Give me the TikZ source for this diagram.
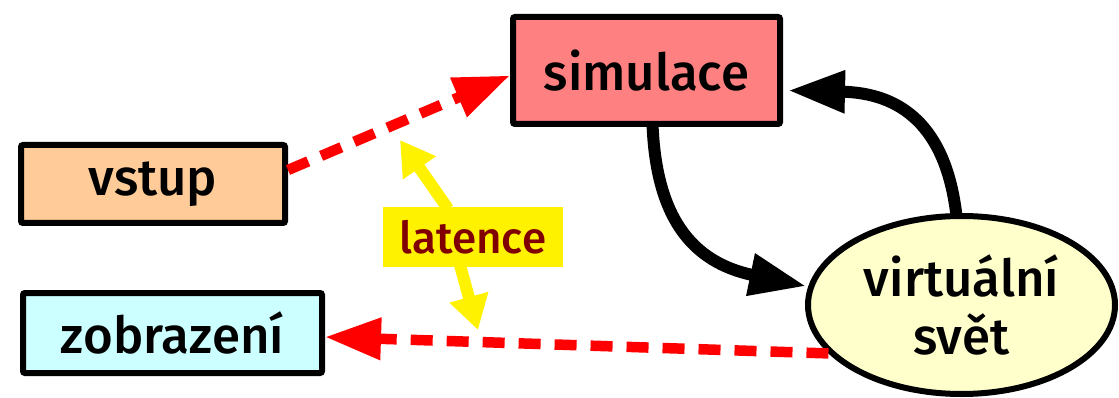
\documentclass[tikz,border=0pt]{standalone}
\usepackage{fontspec}
\setmainfont{Fira Sans}[BoldFont={* Medium}]
\usetikzlibrary{arrows.meta,shapes.geometric}
\definecolor{simfill}{HTML}{FF8080}
\definecolor{infill}{HTML}{FFCC99}
\definecolor{outfill}{HTML}{CCFFFF}
\definecolor{worldfill}{HTML}{FFFFCC}
\definecolor{latred}{HTML}{800000}
\begin{document}
\begin{tikzpicture}[x=1pt,y=-1pt,
  lbl/.style={font=\fontsize{51}{58}\selectfont\bfseries},
  box/.style={lbl, draw=black, line width=6pt, rounded corners=2pt, inner sep=0pt},
  flow/.style={draw=black, line width=12pt, -{Triangle[length=57pt,width=40pt]}},
  lag/.style={draw=red, line width=10.5pt, dash pattern=on 22pt off 14pt, -{Triangle[length=56pt,width=40pt]}},
  latarrow/.style={draw=yellow, line width=12pt, -{Triangle[length=34pt,width=38pt]}},
  latbox/.style={fill=yellow, text=latred, font=\fontsize{44}{48}\selectfont\bfseries,
      minimum width=180pt, minimum height=60pt, inner sep=0pt}]
\useasboundingbox (0,0) rectangle (1119,398);

% nodes
\node[box, fill=simfill, minimum width=267pt, minimum height=107pt] (sim) at (646.5,70.5) {simulace};
\node[box, fill=infill, minimum width=264pt, minimum height=78pt] (vstup) at (153,184) {vstup};
\node[box, fill=outfill, minimum width=299pt, minimum height=80pt] (zob) at (172.5,333) {zobrazení};
\node[lbl, ellipse, draw=black, line width=6pt, fill=worldfill, inner sep=0pt,
      minimum width=307pt, minimum height=178pt, align=center] (world) at (961.5,305) {virtuální\\svět};

% latency label and its two arrows
\coordinate (latUp) at (400,140);
\coordinate (latDown) at (478,330);
\node[latbox] (lat) at (473,237) {latence};
\draw[latarrow] ([xshift=-25pt,yshift=-2pt]lat.north) -- (latUp);
\draw[latarrow] ([xshift=-13pt,yshift=2pt]lat.south) -- (latDown);
\node[latbox] at (lat) {latence};

% simulation loop
\draw[flow] ([xshift=6pt,yshift=3pt]sim.south) .. controls (656,215) and (690,262) .. ([xshift=-2pt]world.173);
\draw[flow] ([xshift=-5pt,yshift=-3pt]world.north) .. controls (946,125) and (900,93) .. ([shift={(5pt,-20pt)}]sim.east);

% delayed paths
\draw[lag] ([yshift=14pt]vstup.east) -- ([yshift=-5pt]sim.west);
\draw[lag] (world.200) -- ([yshift=-4pt]zob.east);
\end{tikzpicture}
\end{document}
